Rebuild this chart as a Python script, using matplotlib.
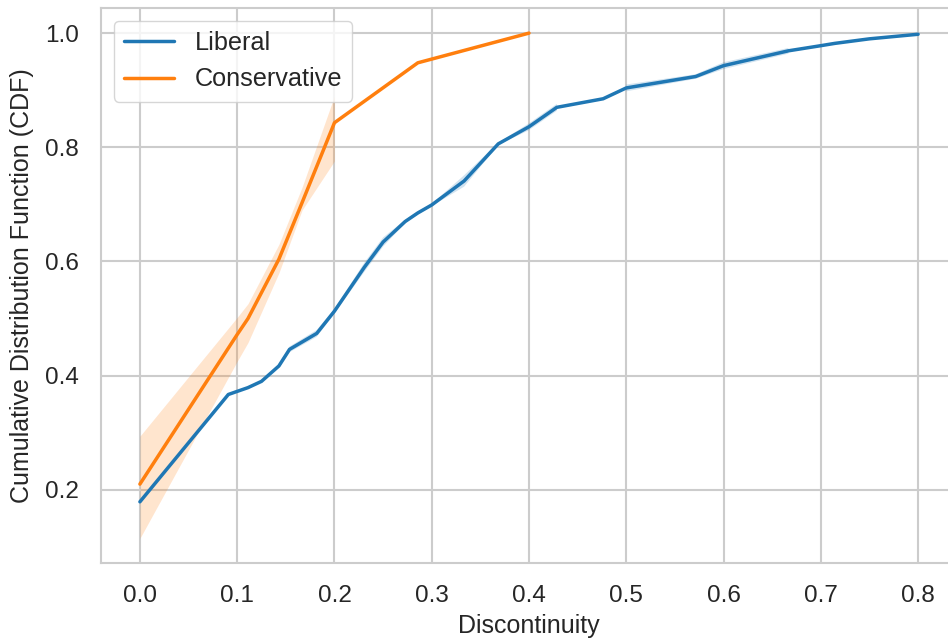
import numpy as np
import matplotlib
matplotlib.use("Agg")
import matplotlib.pyplot as plt
import seaborn as sns

nan = np.nan

# Liberal CDF (mean and band, nan where only one observation)
lib_x = [0.0, 0.0909, 0.1111, 0.125, 0.1429, 0.1538, 0.1818, 0.2, 0.2308, 0.25,
         0.2727, 0.2857, 0.3, 0.3333, 0.3684, 0.4, 0.4286, 0.4762, 0.5, 0.5714,
         0.6, 0.6667, 0.7, 0.7143, 0.75, 0.8]
lib_y = [0.179, 0.367, 0.379, 0.390, 0.417, 0.446, 0.474, 0.513, 0.590, 0.634,
         0.670, 0.685, 0.699, 0.741, 0.806, 0.836, 0.870, 0.885, 0.904, 0.924,
         0.943, 0.969, 0.978, 0.982, 0.990, 0.998]
lib_lo = [0.157, nan, nan, nan, 0.413, 0.441, 0.468, 0.509, 0.582, 0.626,
          0.667, 0.682, 0.697, 0.731, 0.804, 0.830, 0.864, nan, 0.898, 0.920,
          0.937, 0.964, nan, nan, nan, nan]
lib_hi = [0.195, nan, nan, nan, 0.421, 0.451, 0.480, 0.517, 0.598, 0.642,
          0.673, 0.688, 0.701, 0.751, 0.808, 0.842, 0.876, nan, 0.910, 0.928,
          0.949, 0.974, nan, nan, nan, nan]

# Conservative CDF (mean and band)
con_x = [0.0, 0.1, 0.1111, 0.1429, 0.1667, 0.2, 0.2857, 0.4]
con_y = [0.210, 0.472, 0.500, 0.604, 0.703, 0.843, 0.948, 1.0]
con_lo = [0.115, 0.425, 0.458, 0.580, 0.690, 0.776, nan, nan]
con_hi = [0.294, 0.502, 0.526, 0.630, 0.730, 0.890, nan, nan]

sns.set_theme(style="whitegrid")
plt.rcParams['font.family'] = ['Liberation Sans', 'DejaVu Sans']

fig = plt.figure(figsize=(9.48, 6.4), dpi=100)
ax = fig.add_axes([101 / 948, 77 / 640, 856 / 948, 555 / 640])

blue = '#1f77b4'
orange = '#ff7f0e'

ax.fill_between(lib_x, lib_lo, lib_hi, color=blue, alpha=0.2, linewidth=0)
ax.plot(lib_x, lib_y, color=blue, lw=2.5, label='Liberal')
ax.fill_between(con_x, con_lo, con_hi, color=orange, alpha=0.2, linewidth=0)
ax.plot(con_x, con_y, color=orange, lw=2.5, label='Conservative')

ax.set_xlim(-0.04, 0.84)
ax.set_ylim(0.0718, 1.044)
ax.set_xticks(np.arange(0, 0.81, 0.1))
ax.set_yticks([0.2, 0.4, 0.6, 0.8, 1.0])
ax.grid(True, color='#cccccc', lw=1.5)
for s in ax.spines.values():
    s.set_color('#cccccc')
    s.set_linewidth(1.5)

ax.tick_params(labelsize=17.5, pad=10, colors='#262626')
ax.set_xlabel('Discontinuity', fontsize=18, color='#262626', labelpad=5)
ax.set_ylabel('Cumulative Distribution Function (CDF)', fontsize=18,
              color='#262626', labelpad=8)

leg = ax.legend(loc='upper left', fontsize=18.2, frameon=True, framealpha=0.8,
                borderaxespad=0.5, handlelength=2.0)
leg.get_frame().set_edgecolor('#cccccc')

plt.savefig('out.png', dpi=100)
